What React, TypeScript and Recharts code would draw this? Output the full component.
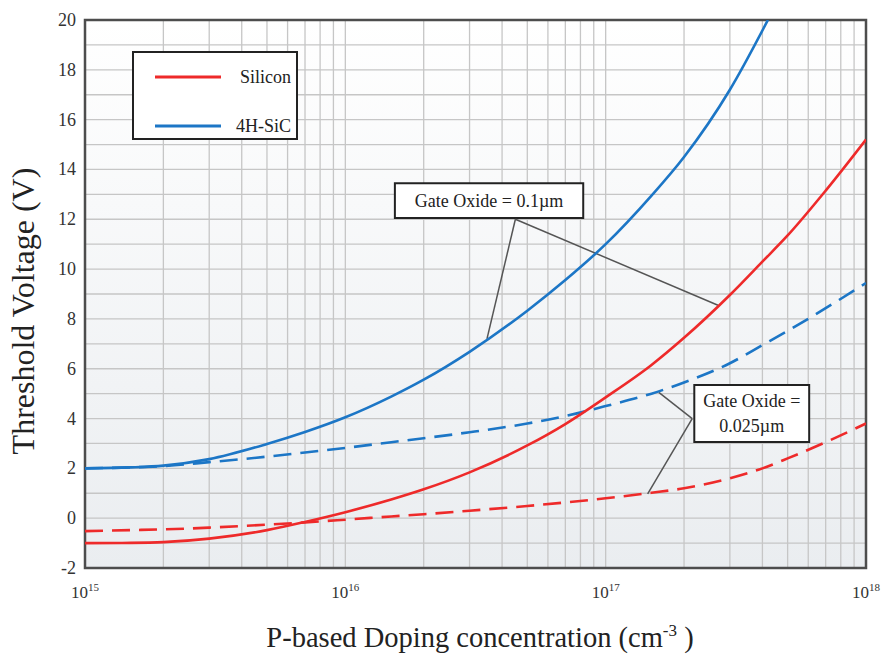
import React from 'react';
import {
  LineChart,
  Line,
  XAxis,
  YAxis,
  CartesianGrid,
  ReferenceArea,
  ReferenceLine,
} from 'recharts';

// ---------- data ----------
const dopingX = [
  1e15, 1.5e15, 2e15, 3e15, 5e15, 7e15, 1e16, 1.5e16, 2e16, 3e16, 5e16, 7e16,
  1e17, 1.5e17, 2e17, 3e17, 4e17, 5e17, 7e17, 1e18,
];
const siliconThick = [
  -1.0, -0.99, -0.96, -0.82, -0.48, -0.15, 0.24, 0.75, 1.16, 1.84, 2.92, 3.78,
  4.85, 6.15, 7.24, 8.96, 10.3, 11.35, 13.15, 15.2,
];
const siliconThin = [
  -0.52, -0.48, -0.45, -0.38, -0.26, -0.17, -0.06, 0.07, 0.16, 0.3, 0.49, 0.63,
  0.8, 1.02, 1.2, 1.6, 2.0, 2.4, 3.05, 3.8,
];
const sicThickX = [
  1e15, 1.5e15, 2e15, 3e15, 5e15, 7e15, 1e16, 1.5e16, 2e16, 3e16, 5e16, 7e16,
  1e17, 1.5e17, 2e17, 3e17, 4.2e17,
];
const sicThick = [
  2.0, 2.04, 2.11, 2.37, 2.98, 3.46, 4.05, 4.88, 5.56, 6.68, 8.33, 9.56, 11.0,
  12.95, 14.5, 17.2, 20.0,
];
const sicThin = [
  2.0, 2.04, 2.09, 2.25, 2.47, 2.64, 2.82, 3.05, 3.21, 3.45, 3.8, 4.1, 4.5, 5.0,
  5.45, 6.22, 6.95, 7.52, 8.43, 9.44,
];

const decades = [1e15, 1e16, 1e17, 1e18];
const decadeExponents = ['15', '16', '17', '18'];
const minorMultipliers = [2, 3, 4, 5, 6, 7, 8, 9];
const yTicks = [-2, -1, 0, 1, 2, 3, 4, 5, 6, 7, 8, 9, 10, 11, 12, 13, 14, 15, 16, 17, 18, 19, 20];

const legendItems = [
  { name: 'Silicon', color: '#ee2a2a' },
  { name: '4H-SiC', color: '#1c76c6' },
];

// annotation boxes and leader lines (data coordinates)
const box01 = { x1: 1.55e16, x2: 8.2e16, y1: 12.05, y2: 13.45, lines: ['Gate Oxide = 0.1µm'] };
const box025 = { x1: 2.19e17, x2: 6.05e17, y1: 3.06, y2: 5.35, lines: ['Gate Oxide =', '0.025µm'] };
const leaders01 = [
  [{ x: 4.5e16, y: 12.0 }, { x: 3.5e16, y: 7.2 }],
  [{ x: 4.5e16, y: 12.0 }, { x: 2.7e17, y: 8.55 }],
];
const leaders025 = [
  [{ x: 2.15e17, y: 4.0 }, { x: 1.6e17, y: 5.05 }],
  [{ x: 2.15e17, y: 4.0 }, { x: 1.45e17, y: 0.98 }],
];

// ---------- build tables ----------
const toPoints = (xs: number[], vs: number[]) => xs.map((x, i) => ({ x, v: vs[i] }));
const siThickData = toPoints(dopingX, siliconThick);
const siThinData = toPoints(dopingX, siliconThin);
const sicThickData = toPoints(sicThickX, sicThick);
const sicThinData = toPoints(dopingX, sicThin);

const xGridTicks: number[] = [];
decades.forEach((d, i) => {
  xGridTicks.push(d);
  if (i < decades.length - 1) minorMultipliers.forEach((m) => xGridTicks.push(m * d));
});

const SERIF = '"Liberation Serif", "Times New Roman", serif';
const W = 883;
const H = 658;

const XTick = (props: any) => {
  const { x, y, payload } = props;
  const idx = decades.indexOf(payload.value);
  if (idx < 0) return <g />;
  return (
    <text x={x} y={y + 30} textAnchor="middle" fontFamily={SERIF} fontSize={17} fill="#333">
      10
      <tspan dy={-7} fontSize={11}>
        {decadeExponents[idx]}
      </tspan>
    </text>
  );
};

const YTick = (props: any) => {
  const { x, y, payload } = props;
  if (Math.abs(payload.value) % 2 !== 0) return <g />;
  return (
    <text x={x} y={y} dy={6} textAnchor="end" fontFamily={SERIF} fontSize={18} fill="#333">
      {payload.value}
    </text>
  );
};

const boxLabel = (lines: string[]) => (p: any) => {
  const vb = p.viewBox || {};
  const cx = vb.x + vb.width / 2;
  const cy = vb.y + vb.height / 2;
  const lh = 25;
  const start = cy + 6 - ((lines.length - 1) * lh) / 2;
  return (
    <text textAnchor="middle" fontFamily={SERIF} fontSize={18} fill="#222">
      {lines.map((l, i) => (
        <tspan key={i} x={cx} y={start + i * lh}>
          {l}
        </tspan>
      ))}
    </text>
  );
};

export default function App() {
  const lineW = 2.6;
  return (
    <div style={{ position: 'relative', width: W, height: H }}>
      <style>{`body{margin:0}.recharts-surface{overflow:visible}`}</style>
      <LineChart width={W} height={H} margin={{ top: 20, right: 17, left: 0, bottom: 0 }}>
        <CartesianGrid stroke="#c6c6c6" strokeWidth={1.3} fill="url(#plotBg)" fillOpacity={1} />
        <XAxis
          dataKey="x"
          type="number"
          scale="log"
          domain={[1e15, 1e18]}
          ticks={xGridTicks}
          interval={0}
          allowDataOverflow
          tick={<XTick />}
          tickLine={false}
          axisLine={false}
          height={90}
          tickSize={0}
          tickMargin={0}
        />
        <YAxis
          type="number"
          domain={[-2, 20]}
          ticks={yTicks}
          interval={0}
          allowDataOverflow
          tick={<YTick />}
          tickLine={false}
          axisLine={false}
          width={85}
          tickSize={0}
          tickMargin={9}
        />
        <ReferenceArea x1={1e15} x2={1e18} y1={-2} y2={20} fill="none" stroke="#4d4d4d" strokeWidth={2.5} />
        {[box01, box025].map((b, i) => (
          <ReferenceArea
            key={'box' + i}
            x1={b.x1}
            x2={b.x2}
            y1={b.y1}
            y2={b.y2}
            fill="#ffffff"
            fillOpacity={1}
            stroke="#222"
            strokeWidth={2}
            label={{ content: boxLabel(b.lines) }}
          />
        ))}
        {[...leaders01, ...leaders025].map((seg, i) => (
          <ReferenceLine key={'ld' + i} segment={seg as any} stroke="#555" strokeWidth={1.5} />
        ))}
        <Line data={sicThinData} dataKey="v" type="monotone" stroke={legendItems[1].color} strokeWidth={lineW} strokeDasharray="18 9" dot={false} isAnimationActive={false} />
        <Line data={siThinData} dataKey="v" type="monotone" stroke={legendItems[0].color} strokeWidth={lineW} strokeDasharray="18 9" dot={false} isAnimationActive={false} />
        <Line data={sicThickData} dataKey="v" type="monotone" stroke={legendItems[1].color} strokeWidth={lineW} dot={false} isAnimationActive={false} />
        <Line data={siThickData} dataKey="v" type="monotone" stroke={legendItems[0].color} strokeWidth={lineW} dot={false} isAnimationActive={false} />
      </LineChart>
      <svg
        width={W}
        height={H}
        style={{ position: 'absolute', left: 0, top: 0, pointerEvents: 'none' }}
      >
        <defs>
          <linearGradient id="plotBg" x1="0" y1="0" x2="0" y2="1">
            <stop offset="0%" stopColor="#ffffff" />
            <stop offset="100%" stopColor="#eaedf0" />
          </linearGradient>
        </defs>
        <g transform="translate(133,52)">
          <rect x={0} y={0} width={164} height={87} fill="#ffffff" stroke="#222" strokeWidth={2} />
          {legendItems.map((it, i) => (
            <g key={it.name}>
              <line x1={22} x2={88} y1={25 + i * 49} y2={25 + i * 49} stroke={it.color} strokeWidth={3} />
              <text x={158} y={25 + i * 49 + 6} textAnchor="end" fontFamily={SERIF} fontSize={18} fill="#222">
                {it.name}
              </text>
            </g>
          ))}
        </g>
        <text
          transform="translate(34,311) rotate(-90)"
          textAnchor="middle"
          fontFamily={SERIF}
          fontSize={32}
          fill="#222"
        >
          Threshold Voltage (V)
        </text>
        <text x={480} y={647} textAnchor="middle" fontFamily={SERIF} fontSize={28.5} fill="#222">
          P-based Doping concentration (cm
          <tspan dy={-11} fontSize={17}>
            -3
          </tspan>
          <tspan dy={11}> )</tspan>
        </text>
      </svg>
    </div>
  );
}
